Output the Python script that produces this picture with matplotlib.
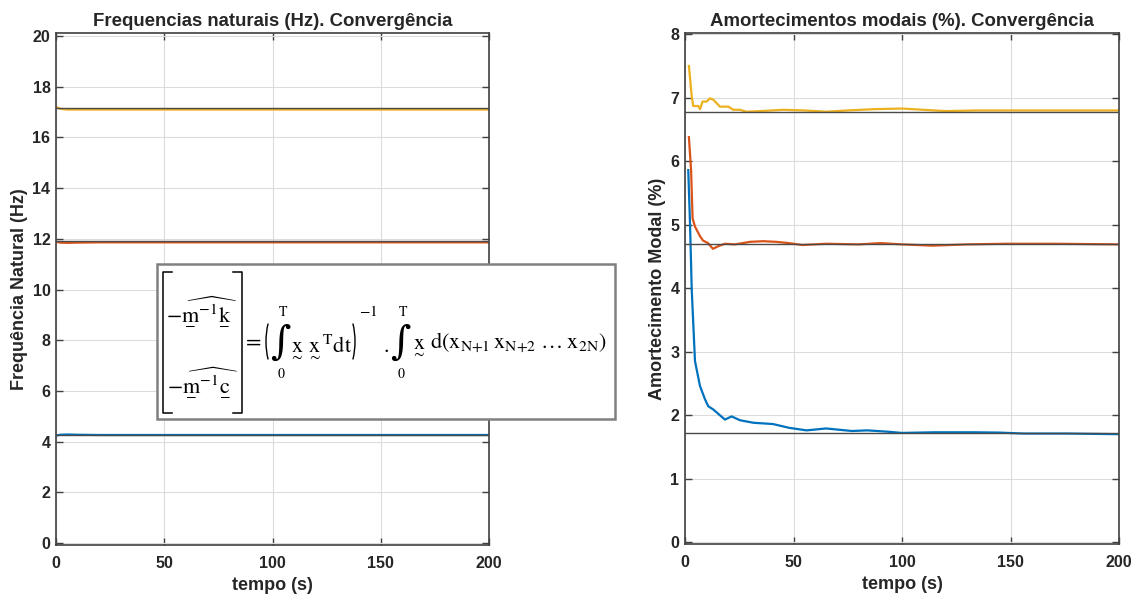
import matplotlib
matplotlib.use("Agg")
import matplotlib.pyplot as plt
from matplotlib.patches import Rectangle, Arc
from matplotlib.lines import Line2D
from matplotlib.mathtext import MathTextParser

plt.rcParams['font.family'] = ['Liberation Sans', 'DejaVu Sans']
plt.rcParams['mathtext.fontset'] = 'stix'

# --- data ---
t_freq = [0, 2, 5, 10, 20, 50, 100, 150, 200]
freq1 = [4.24, 4.27, 4.28, 4.27, 4.26, 4.26, 4.26, 4.26, 4.26]
freq2 = [11.88, 11.85, 11.84, 11.85, 11.86, 11.86, 11.86, 11.86, 11.86]
freq3 = [17.20, 17.13, 17.10, 17.10, 17.10, 17.10, 17.10, 17.10, 17.10]
freq_ref = [4.25, 11.93, 17.18]

t_d1 = [1.5, 2.3, 3.1, 4.6, 6.9, 9.2, 10.7, 13, 18.4, 21.5, 25.3, 31.5, 40.5, 48,
        56, 65, 71, 77, 84, 93, 100, 115, 133, 145, 156, 176, 200]
damp1 = [5.86, 5.03, 3.98, 2.85, 2.46, 2.25, 2.14, 2.09, 1.93, 1.98, 1.92, 1.88, 1.86, 1.80,
         1.76, 1.79, 1.77, 1.75, 1.76, 1.74, 1.72, 1.73, 1.73, 1.725, 1.71, 1.71, 1.70]
t_d2 = [1.8, 2.8, 3.5, 4.6, 6.9, 8.3, 10.6, 12.9, 15.2, 18.4, 23, 30, 36, 42, 48, 54,
        65, 80, 90, 100, 114, 130, 148, 170, 200]
damp2 = [6.38, 5.86, 5.10, 4.97, 4.82, 4.75, 4.71, 4.62, 4.66, 4.70, 4.69, 4.73, 4.74, 4.73,
         4.71, 4.68, 4.70, 4.69, 4.71, 4.69, 4.67, 4.69, 4.70, 4.70, 4.69]
t_d3 = [1.8, 3.1, 3.8, 6.1, 6.9, 8.1, 10, 11.5, 13, 16.1, 20, 22.2, 25.3, 28.4, 35, 45,
        55, 65, 75, 87, 100, 110, 120, 135, 150, 170, 200]
damp3 = [7.50, 7.02, 6.87, 6.87, 6.82, 6.94, 6.94, 6.99, 6.97, 6.86, 6.86, 6.81, 6.81, 6.78,
         6.79, 6.81, 6.80, 6.78, 6.80, 6.82, 6.83, 6.81, 6.79, 6.80, 6.80, 6.80, 6.80]
damp_ref = [1.72, 4.69, 6.78]

colors = ['#0072BD', '#D95319', '#EDB120']
ref_color = '#4a4a4a'
txt_color = '#262626'

W, H = 1142, 599
fig = plt.figure(figsize=(W / 100, H / 100), dpi=100)


def px(x):
    return x / W


def py(y):
    return 1 - y / H


def style_axes(ax):
    ax.grid(True, color='#dcdcdc', linewidth=0.8)
    ax.set_axisbelow(True)
    for s in ax.spines.values():
        s.set_color('#404040')
        s.set_linewidth(1.2)
    ax.tick_params(direction='in', top=True, right=True, length=5, width=1,
                   color='#404040', labelsize=11.5, labelcolor=txt_color)
    ax.tick_params(axis='x', pad=8)
    ax.tick_params(axis='y', pad=4)
    for lab in ax.get_xticklabels() + ax.get_yticklabels():
        lab.set_fontweight('bold')


# left panel: natural frequencies
ax1 = fig.add_axes([px(56), py(545), px(489 - 56), py(33) - py(545)])
for vals, c in zip([freq1, freq2, freq3], colors):
    ax1.plot(t_freq, vals, color=c, linewidth=1.6)
for r in freq_ref:
    ax1.axhline(r, color=ref_color, linewidth=1.0, zorder=3)
ax1.set_xlim(0, 200)
ax1.set_ylim(-0.08, 20.12)
ax1.set_xticks([0, 50, 100, 150, 200])
ax1.set_yticks(range(0, 21, 2))
style_axes(ax1)
ax1.set_title('Frequencias naturais (Hz). Convergência', fontsize=13.4, fontweight='bold',
              color=txt_color, pad=5)
ax1.set_xlabel('tempo (s)', fontsize=13, fontweight='bold', color=txt_color, labelpad=4)
ax1.set_ylabel('Frequência Natural (Hz)', fontsize=13, fontweight='bold', color=txt_color,
               labelpad=3)

# right panel: modal damping
ax2 = fig.add_axes([px(685), py(544), px(1119 - 685), py(33) - py(544)])
for tt, vals, c in zip([t_d1, t_d2, t_d3], [damp1, damp2, damp3], colors):
    ax2.plot(tt, vals, color=c, linewidth=1.6)
for r in damp_ref:
    ax2.axhline(r, color=ref_color, linewidth=1.0, zorder=3)
ax2.set_xlim(0, 200)
ax2.set_ylim(-0.03, 8.02)
ax2.set_xticks([0, 50, 100, 150, 200])
ax2.set_yticks(range(0, 9))
style_axes(ax2)
ax2.set_title('Amortecimentos modais (%). Convergência', fontsize=13.4, fontweight='bold',
              color=txt_color, pad=5)
ax2.set_xlabel('tempo (s)', fontsize=13, fontweight='bold', color=txt_color, labelpad=4)
ax2.set_ylabel('Amortecimento Modal (%)', fontsize=13, fontweight='bold', color=txt_color,
               labelpad=3)

# formula box over the left panel
fig.add_artist(Rectangle((px(157), py(419)), px(615) - px(157), py(264) - py(419),
                         transform=fig.transFigure, facecolor='white', edgecolor='#808080',
                         linewidth=1.8, zorder=5))


def mt_ok(s):
    try:
        MathTextParser('path').parse(s)
        return True
    except Exception:
        return False


if mt_ok(r'$\underline{\mathrm{m}}$'):
    ul = r'\underline{\mathrm{%s}}'
else:
    ul = r'\underset{-}{\mathrm{%s}}'

row1 = r'$-\widehat{' + ul % 'm' + r'^{-1}' + ul % 'k' + r'}$'
row2 = r'$-\widehat{' + ul % 'm' + r'^{-1}' + ul % 'c' + r'}$'
xt = r'\underset{\sim}{\mathrm{x}}'

fz = 16
kw = dict(zorder=6, color='black', fontsize=fz)
fig.text(px(202), py(310), row1, ha='center', va='center', **kw)
fig.text(px(202), py(381), row2, ha='center', va='center', **kw)

# square brackets
for xs in ([171.7, 162.7, 162.7, 171.7], [233.3, 241.7, 241.7, 233.3]):
    fig.add_artist(Line2D([px(v) for v in xs], [py(272), py(272), py(413), py(413)],
                          transform=fig.transFigure, color='black', linewidth=1.1, zorder=6))

fig.text(px(252), py(341), r'$=$', ha='center', va='center', **kw)

# parentheses
fig.add_artist(Arc((px(282), py(341.5)), px(32), 72 / H, theta1=112, theta2=248,
                   transform=fig.transFigure, color='black', linewidth=1.0, zorder=6))
fig.add_artist(Arc((px(339), py(341.5)), px(32), 72 / H, theta1=-68, theta2=68,
                   transform=fig.transFigure, color='black', linewidth=1.0, zorder=6))

# integral signs with limits
for xi in (281, 401):
    fig.text(px(xi), py(342.5), r'$\int$', ha='center', va='center', zorder=6,
             fontsize=20, math_fontfamily='dejavuserif')
    fig.text(px(xi + 2), py(312), r'$\mathrm{T}$', ha='center', va='center', zorder=6, fontsize=10)
    fig.text(px(xi), py(374), r'$0$', ha='center', va='center', zorder=6, fontsize=10)

fig.text(px(289), py(346), r'$' + xt + r'\,' + xt + r'^{\mathrm{T}}\mathrm{dt}$',
         ha='left', va='center', **kw)
fig.text(px(359), py(311), r'$-1$', ha='left', va='center', zorder=6, fontsize=11)
fig.text(px(386), py(346), r'$.$', ha='center', va='center', **kw)
fig.text(px(411), py(346), r'$' + xt + r'$', ha='left', va='center', **kw)
fig.text(px(430), py(343),
         r'$\mathrm{d(x}_{\mathrm{N{+}1}}\,\mathrm{x}_{\mathrm{N{+}2}}\;\ldots\;\mathrm{x}_{\mathrm{2N}}\mathrm{)}$',
         ha='left', va='center', **kw)

fig.savefig('out.png', dpi=100)
